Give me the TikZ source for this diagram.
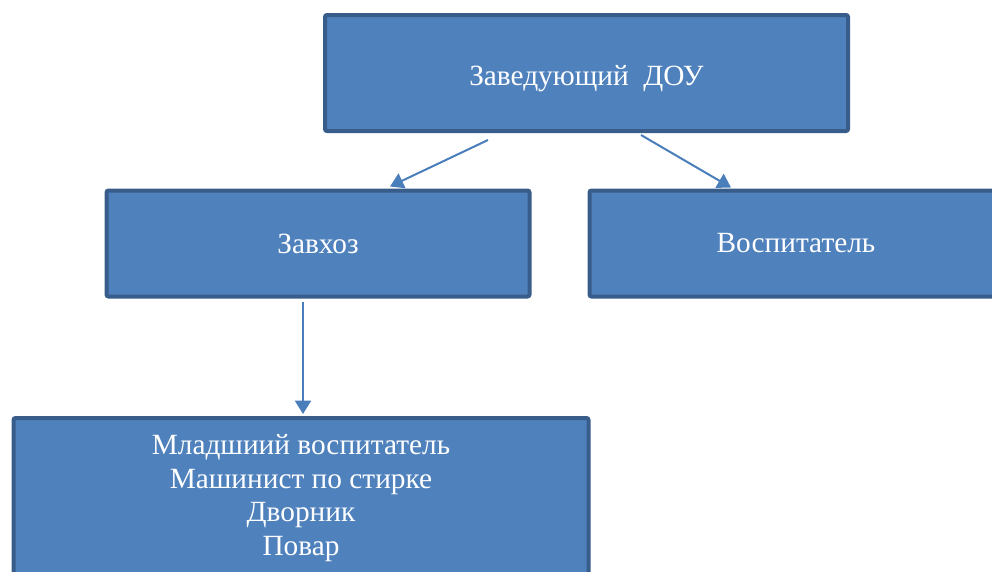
\documentclass[tikz,border=0pt]{standalone}
\usepackage{fontspec}
\setmainfont{Liberation Serif}
\usetikzlibrary{arrows.meta,calc}

\begin{document}
\begin{tikzpicture}[x=0.75pt,y=-0.75pt,
  post/.style={draw=postline, fill=postfill, line width=3pt, rounded corners=1.5pt,
    text=white, align=center, font=\fontsize{22}{25.3}\selectfont, inner sep=0pt},
  link/.style={draw=linkblue, line width=1.5pt, -{Triangle[width=12pt,length=10pt]}}]

% Colors
\definecolor{postfill}{RGB}{79,129,189}   % box
\definecolor{postline}{RGB}{56,93,138}    % border
\definecolor{linkblue}{RGB}{74,126,187}   % arrows

\useasboundingbox (0,0) rectangle (992,571);
\clip (0,0) rectangle (992,571);

% === Head ===
\node[post, minimum width=392.25pt, minimum height=87pt] (head) at (586.5,73)
  {\smash{\raisebox{-9pt}{Заведующий\ \ ДОУ}}};

% === Second level ===
\node[post, minimum width=317.25pt, minimum height=79.5pt] (zavhoz) at (318,243.5) {Завхоз};
\node[post, minimum width=309.75pt, minimum height=79.5pt] (vosp) at (796,243.5) {Воспитатель};

% === Staff ===
\node[post, minimum width=431.25pt, minimum height=120pt] (staff) at (301,498)
  {Младшиий воспитатель\\Машинист по стирке\\Дворник\\Повар};

% === Arrows ===
\coordinate (hl) at ($(head.south west)+(165,7)$);
\coordinate (hr) at ($(head.south west)+(318,2)$);
\draw[link] (hl) -- ($(zavhoz.north west)+(285.5,-2)$);
\draw[link] (hr) -- ($(vosp.north west)+(143.5,-1)$);
\draw[link] ($(zavhoz.south west)+(198.5,3)$) -- ($(staff.north west)+(291.5,-2)$);

\end{tikzpicture}
\end{document}
